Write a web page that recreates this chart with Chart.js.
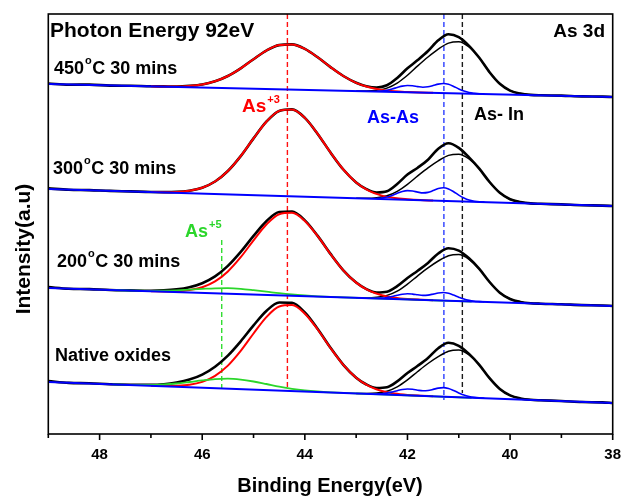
<!DOCTYPE html>
<html lang="en">
<head>
<meta charset="UTF-8">
<title>As 3d core level spectra</title>
<script src="https://cdn.jsdelivr.net/npm/chart.js"></script>
<style>
  html, body { margin: 0; padding: 0; background: #fff; }
  canvas { display: block; }
</style>
</head>
<body>
<canvas id="spectra" width="622" height="498"></canvas>
<script>
// Binding energy grids (eV) for each kind of curve
const energyEnv = [49.0, 48.6, 48.2, 47.8, 47.4, 47.0, 46.75, 46.5, 46.25, 46.0, 45.75, 45.5, 45.25, 45.0, 44.75, 44.5, 44.25, 44.0, 43.75, 43.5, 43.25, 43.0,
  42.8, 42.6, 42.4, 42.2, 42.0, 41.8, 41.6, 41.4, 41.2, 41.0, 40.8, 40.6, 40.4, 40.2, 40.0, 39.8, 39.6, 39.4, 39.0, 38.6, 38.2, 38.0];
const energyRed = [47.0, 46.75, 46.5, 46.25, 46.0, 45.75, 45.5, 45.25, 45.0, 44.75, 44.5, 44.25, 44.0, 43.75, 43.5, 43.25, 43.0, 42.75, 42.5, 42.25, 42.0, 41.75, 41.5];
const energyGreen = [47.75, 47.25, 47.0, 46.75, 46.5, 46.25, 46.0, 45.75, 45.5, 45.25, 45.0, 44.75, 44.5, 44.25, 44.0, 43.75, 43.5, 43.25, 42.5, 41.5, 40.75];
const energyAsAs = [42.6, 42.5, 42.4, 42.3, 42.2, 42.1, 42.0, 41.9, 41.8, 41.7, 41.6, 41.5, 41.4, 41.3, 41.2, 41.1, 41.0, 40.9, 40.8, 40.7, 40.6, 40.5];
const energyAsIn = [43.0, 42.8, 42.6, 42.4, 42.2, 42.0, 41.8, 41.6, 41.4, 41.2, 41.0, 40.8, 40.6, 40.4, 40.2, 40.0, 39.8, 39.6, 39.4];
const energyBase = [49.0, 38.0];

// measured spectra (offset stacks, arbitrary units)
const env450 = [350.5, 349.3, 349.4, 348.4, 348.2, 347.7, 347.6, 347.5, 348.1, 349.5, 352.7, 358.0, 365.7, 374.8, 383.4, 388.9, 389.6, 385.1, 376.7, 366.9, 358.0, 351.3,
  347.8, 346.5, 348.7, 356.0, 365.7, 374.0, 383.0, 393.7, 399.8, 396.9, 388.2, 376.2, 361.8, 350.2, 343.4, 340.4, 339.1, 338.7, 338.4, 337.6, 337.4, 337.0];
const env300 = [245.6, 244.3, 243.9, 243.1, 242.6, 242.0, 241.9, 242.1, 243.3, 246.3, 252.5, 263.0, 277.9, 295.6, 312.3, 323.1, 324.6, 316.1, 300.1, 281.5, 264.5, 251.6,
  244.9, 241.5, 242.7, 250.0, 259.4, 266.3, 274.3, 285.3, 290.7, 286.1, 276.6, 265.3, 252.0, 241.2, 234.8, 232.0, 230.6, 230.2, 229.6, 228.8, 228.4, 228.0];
const env200 = [146.9, 145.3, 144.9, 144.0, 143.6, 143.3, 143.6, 144.6, 146.8, 150.8, 157.6, 168.1, 182.1, 198.1, 212.8, 222.0, 222.5, 213.6, 198.1, 180.1, 163.7, 151.4,
  144.9, 141.5, 142.2, 147.8, 156.0, 163.3, 171.1, 180.5, 185.8, 183.4, 175.7, 165.1, 152.0, 141.3, 135.0, 132.1, 130.8, 130.3, 129.7, 128.9, 128.5, 128.0];
const envNative = [52.9, 51.1, 50.7, 49.7, 49.3, 49.2, 49.8, 51.5, 54.4, 59.4, 67.3, 78.4, 92.7, 108.6, 123.0, 131.5, 131.2, 121.5, 105.0, 86.2, 69.2, 56.3,
  49.5, 46.0, 46.7, 52.6, 61.0, 68.2, 76.1, 85.8, 91.2, 88.2, 80.1, 69.2, 55.8, 45.0, 38.6, 35.6, 34.2, 33.7, 33.0, 32.0, 31.6, 31.0];

// As+3 oxide component
const red450 = [347.7, 347.5, 347.5, 348.1, 349.5, 352.7, 358.0, 365.7, 374.8, 383.4, 388.9, 389.6, 385.1, 376.7, 366.9, 358.0, 351.2, 346.7, 344.1, 342.7, 342.0, 341.5, 341.2];
const red300 = [242.0, 241.8, 242.1, 243.3, 246.3, 252.5, 263.0, 277.9, 295.6, 312.3, 323.1, 324.6, 316.1, 300.1, 281.5, 264.5, 251.6, 243.2, 238.4, 235.9, 234.7, 233.9, 233.5];
const red200 = [142.8, 142.6, 142.8, 143.9, 146.8, 152.6, 162.6, 176.8, 193.6, 209.5, 219.8, 221.2, 213.0, 197.8, 180.0, 163.7, 151.4, 143.3, 138.7, 136.3, 135.0, 134.3, 133.8];
const redNative = [48.3, 48.0, 48.2, 49.2, 52.1, 58.2, 68.4, 83.1, 100.5, 116.9, 127.5, 128.9, 120.3, 104.5, 86.0, 69.1, 56.3, 47.9, 43.0, 40.5, 39.1, 38.3, 37.7];

// As+5 oxide component (only before 300C)
const green200 = [144.0, 143.3, 143.2, 143.3, 143.7, 144.4, 145.1, 145.7, 145.8, 145.2, 143.9, 142.4, 140.8, 139.5, 138.5, 137.7, 137.1, 136.6, 135.4, 133.7, 132.5];
const greenNative = [49.7, 49.0, 49.0, 49.5, 50.5, 52.0, 53.6, 54.9, 55.3, 54.4, 52.5, 50.0, 47.4, 45.2, 43.6, 42.5, 41.7, 41.1, 39.6, 37.7, 36.2];

// As-As doublet
const asAs450 = [342.7, 343.0, 343.8, 345.0, 346.5, 347.9, 348.5, 348.2, 347.4, 346.8, 347.2, 348.5, 349.9, 350.5, 349.7, 347.6, 345.1, 343.0, 341.5, 340.7, 340.2, 340.0];
const asAs300 = [235.5, 235.9, 236.9, 238.6, 240.7, 242.6, 243.4, 243.0, 241.9, 241.1, 241.6, 243.4, 245.4, 246.2, 245.1, 242.3, 238.9, 236.0, 233.9, 232.8, 232.2, 231.9];
const asAs200 = [135.8, 135.9, 136.5, 137.5, 138.7, 139.8, 140.3, 139.9, 139.2, 138.6, 138.9, 139.9, 141.0, 141.5, 140.7, 138.9, 136.8, 134.9, 133.6, 132.8, 132.4, 132.1];
const asAsNative = [40.0, 40.3, 40.9, 42.0, 43.3, 44.5, 45.0, 44.7, 43.8, 43.2, 43.5, 44.6, 45.9, 46.4, 45.5, 43.5, 41.1, 38.9, 37.5, 36.6, 36.1, 35.8];

// As-In (substrate) doublet
const asIn450 = [343.0, 343.0, 343.7, 345.9, 350.9, 358.7, 368.1, 377.0, 384.9, 390.9, 392.3, 387.0, 376.1, 361.8, 350.2, 343.4, 340.4, 339.1, 338.7];
const asIn300 = [235.8, 235.7, 236.3, 238.2, 242.7, 249.7, 258.1, 266.2, 273.2, 278.6, 279.8, 275.0, 265.1, 252.0, 241.2, 234.8, 232.0, 230.6, 230.2];
const asIn200 = [136.2, 136.1, 136.7, 138.6, 142.9, 149.9, 158.2, 166.1, 173.0, 178.3, 179.5, 174.7, 164.9, 152.0, 141.3, 135.0, 132.1, 130.8, 130.3];
const asInNative = [40.6, 40.5, 40.9, 42.8, 47.2, 54.1, 62.5, 70.5, 77.4, 82.7, 83.9, 79.0, 69.0, 55.8, 45.0, 38.6, 35.6, 34.2, 33.7];

// linear backgrounds
const base450 = [350, 337];
const base300 = [245, 228];
const base200 = [146, 128];
const baseNative = [52, 31];

// peak positions (eV) and the vertical span of their guide lines
const posAs3 = 44.34, posAs5 = 45.62, posAsAs = 41.29, posAsIn = 40.93;
const spanAs3 = [420, 44], spanAs5 = [194, 46], spanAsAs = [420, 34], spanAsIn = [420, 41];

const RED = '#ff0000', BLUE = '#0000ff', GREEN = '#2bd62b', BLACK = '#000000';
const FONT = '"Liberation Sans", Arial, sans-serif';

const pts = (xs, ys) => xs.map((x, i) => ({ x: x, y: ys[i] }));

function curve(xs, ys, color, width, order) {
  return {
    data: pts(xs, ys), borderColor: color, borderWidth: width, order: order,
    pointRadius: 0, fill: false, cubicInterpolationMode: 'monotone'
  };
}

function guide(x, span, color) {
  return {
    data: [{ x: x, y: span[0] }, { x: x, y: span[1] }], borderColor: color, borderWidth: 1.4,
    borderDash: [5, 3], pointRadius: 0, fill: false, order: 6
  };
}

const spectra = [
  { env: env450, red: red450, asAs: asAs450, asIn: asIn450, base: base450 },
  { env: env300, red: red300, asAs: asAs300, asIn: asIn300, base: base300 },
  { env: env200, red: red200, asAs: asAs200, asIn: asIn200, base: base200, green: green200 },
  { env: envNative, red: redNative, asAs: asAsNative, asIn: asInNative, base: baseNative, green: greenNative }
];

const datasets = [
  guide(posAs3, spanAs3, '#ff1010'),
  guide(posAs5, spanAs5, '#33dd33'),
  guide(posAsAs, spanAsAs, '#2a3cff'),
  guide(posAsIn, spanAsIn, '#1a1a1a')
];
spectra.forEach(s => {
  datasets.push(curve(energyEnv, s.env, BLACK, 2.6, 5));
  datasets.push(curve(energyAsIn, s.asIn, BLACK, 1.5, 4));
  datasets.push(curve(energyRed, s.red, RED, 2, 3));
  if (s.green) datasets.push(curve(energyGreen, s.green, GREEN, 1.8, 2));
  datasets.push(curve(energyAsAs, s.asAs, BLUE, 1.6, 1));
  datasets.push(curve(energyBase, s.base, BLUE, 2, 0));
});

// text labels placed in canvas pixels
const labels = [
  { text: 'Photon Energy 92eV', x: 50, y: 37, size: 21, color: BLACK },
  { text: 'As 3d', x: 605, y: 37, size: 19, color: BLACK, align: 'right' },
  { text: '450', sup: 'o', after: 'C 30 mins', x: 54, y: 74, size: 18, color: BLACK, supRise: 0.58 },
  { text: '300', sup: 'o', after: 'C 30 mins', x: 53, y: 174, size: 18, color: BLACK, supRise: 0.58 },
  { text: '200', sup: 'o', after: 'C 30 mins', x: 57, y: 267, size: 18, color: BLACK, supRise: 0.58 },
  { text: 'Native oxides', x: 55, y: 361, size: 18, color: BLACK },
  { text: 'As', sup: '+3', x: 242, y: 112, size: 19, color: RED, supRise: 0.45 },
  { text: 'As-As', x: 367, y: 123, size: 18, color: BLUE },
  { text: 'As- In', x: 474, y: 119.5, size: 18, color: BLACK },
  { text: 'As', sup: '+5', x: 185, y: 237, size: 18, color: GREEN, supRise: 0.5 }
];

const decor = {
  id: 'decor',
  afterDraw(chart) {
    const { ctx, chartArea: a } = chart;
    const xs = chart.scales.x;
    ctx.save();
    ctx.strokeStyle = BLACK;
    ctx.lineWidth = 1.6;
    ctx.strokeRect(a.left, a.top, a.right - a.left, a.bottom - a.top);

    // major ticks on even energies, minor on odd
    for (let e = 38; e <= 49; e++) {
      const px = xs.getPixelForValue(e);
      ctx.beginPath();
      ctx.moveTo(px, a.bottom);
      ctx.lineTo(px, a.bottom + (e % 2 === 0 ? 6 : 4));
      ctx.stroke();
    }

    ctx.textBaseline = 'alphabetic';
    labels.forEach(l => {
      ctx.fillStyle = l.color;
      ctx.font = 'bold ' + l.size + 'px ' + FONT;
      ctx.textAlign = l.align || 'left';
      ctx.fillText(l.text, l.x, l.y);
      if (!l.sup) return;
      ctx.textAlign = 'left';
      let cx = l.x + ctx.measureText(l.text).width + 1;
      ctx.font = 'bold 11px ' + FONT;
      ctx.fillText(l.sup, cx, l.y - l.size * l.supRise);
      cx += ctx.measureText(l.sup).width + 0.5;
      if (l.after) {
        ctx.font = 'bold ' + l.size + 'px ' + FONT;
        ctx.fillText(l.after, cx, l.y);
      }
    });

    // axis titles
    ctx.fillStyle = BLACK;
    ctx.font = 'bold 20px ' + FONT;
    ctx.textAlign = 'center';
    ctx.fillText('Binding Energy(eV)', 330, 492);
    ctx.save();
    ctx.translate(30, 249);
    ctx.rotate(-Math.PI / 2);
    ctx.font = 'bold 21px ' + FONT;
    ctx.fillText('Intensity(a.u)', 0, 0);
    ctx.restore();
    ctx.restore();
  }
};

new Chart(document.getElementById('spectra'), {
  type: 'line',
  data: { datasets: datasets },
  options: {
    responsive: false,
    animation: false,
    devicePixelRatio: 1,
    layout: { padding: { left: 48.3, right: 9.3, top: 14, bottom: 0 } },
    plugins: { legend: { display: false }, tooltip: { enabled: false } },
    scales: {
      x: {
        type: 'linear', reverse: true, min: 38, max: 49,
        grid: { display: false, drawTicks: false },
        border: { display: false },
        ticks: {
          stepSize: 1, autoSkip: false, maxRotation: 0, padding: 12, color: BLACK,
          font: { family: FONT, size: 15, weight: 'bold' },
          callback: v => (v % 2 === 0 ? v : '')
        },
        // the end labels fit inside the page margins, so no extra side padding
        afterFit: s => { s.height = 64; s.paddingLeft = 0; s.paddingRight = 0; }
      },
      y: { display: false, min: 0, max: 420 }
    }
  },
  plugins: [decor]
});
</script>
</body>
</html>
